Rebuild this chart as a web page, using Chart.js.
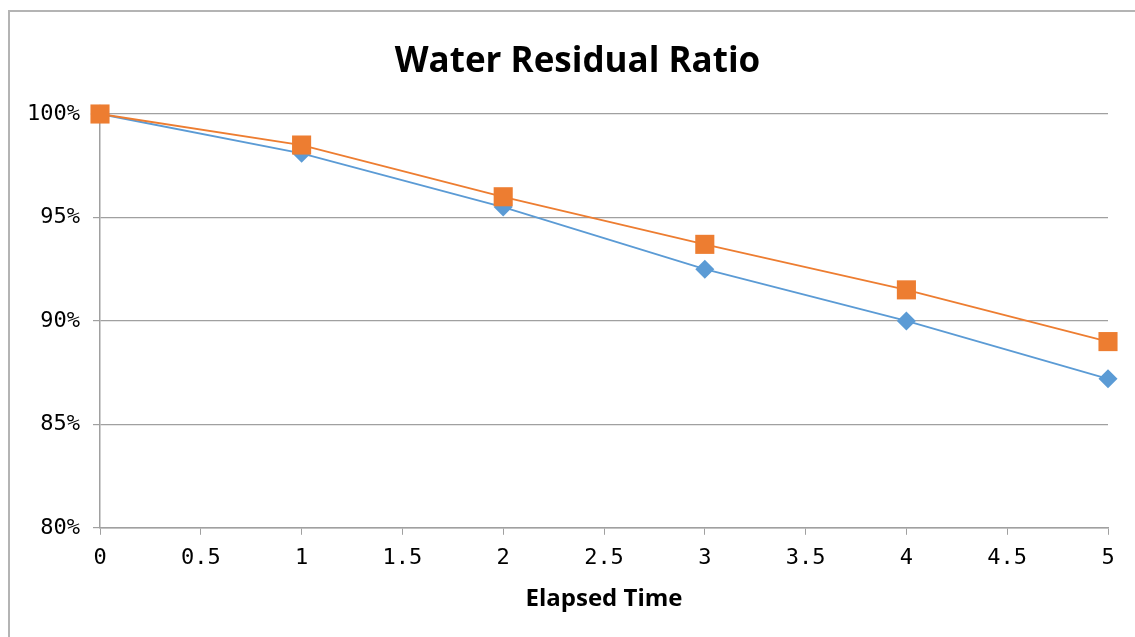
<!DOCTYPE html>
<html>
<head>
<meta charset="utf-8">
<script src="https://cdn.jsdelivr.net/npm/chart.js@4"></script>
<style>
  html, body { margin: 0; padding: 0; background: #fff; }
  #wrap { position: absolute; left: 0; top: 0; width: 1135px; height: 637px; }
  #frame { position: absolute; left: 8px; top: 10px; width: 1200px; height: 700px;
           border-left: 2px solid #b4b4b4; border-top: 2px solid #b4b4b4; }
</style>
</head>
<body>
<div id="frame"></div>
<div id="wrap"><canvas id="chart" width="1135" height="637"></canvas></div>
<script>
let times = [0, 1, 2, 3, 4, 5];
let seriesA = [100, 98.1, 95.5, 92.5, 90.0, 87.2];
let seriesB = [100, 98.5, 96.0, 93.7, 91.5, 89.0];
let xTicks = [0, 0.5, 1, 1.5, 2, 2.5, 3, 3.5, 4, 4.5, 5];
let yTicks = [80, 85, 90, 95, 100];

function pts(vals) {
  let out = [];
  for (let i = 0; i < times.length; i++) out.push({ x: times[i], y: vals[i] });
  return out;
}

let ctx = document.querySelector("#chart").getContext("2d");
let tickFont = { family: "'DejaVu Sans Mono'", size: 22 };

new Chart(ctx, {
  type: "line",
  data: {
    datasets: [
      {
        label: "A",
        data: pts(seriesA),
        borderColor: "#5B9BD5",
        backgroundColor: "#5B9BD5",
        borderWidth: 1.8,
        pointStyle: "rectRot",
        pointRadius: 9.5,
        pointBorderWidth: 0,
        clip: false,
        order: 2,
      },
      {
        label: "B",
        data: pts(seriesB),
        borderColor: "#ED7D31",
        backgroundColor: "#ED7D31",
        borderWidth: 1.8,
        pointStyle: "rect",
        pointRadius: 13.5,
        pointBorderWidth: 0,
        clip: false,
        order: 1,
      },
    ],
  },
  options: {
    responsive: false,
    animation: false,
    layout: { padding: { left: 20, right: 0, top: 0, bottom: 23 } },
    plugins: {
      legend: { display: false },
      tooltip: { enabled: false },
      title: {
        display: true,
        text: "Water Residual Ratio",
        color: "#000",
        font: { family: "'Open Sans'", size: 35, weight: "bold" },
        padding: { top: 41, bottom: 31 },
      },
    },
    scales: {
      x: {
        type: "linear",
        min: 0,
        max: 5,
        afterBuildTicks: (axis) => { axis.ticks = xTicks.map((v) => ({ value: v })); },
        ticks: {
          color: "#000",
          font: tickFont,
          padding: 10,
          maxRotation: 0,
          callback: (v) => String(v),
        },
        grid: { drawOnChartArea: false, drawTicks: true, tickLength: 7, color: "#a0a0a0" },
        border: { color: "#a0a0a0", width: 1.5 },
        title: {
          display: true,
          text: "Elapsed Time",
          color: "#000",
          font: { family: "'Open Sans'", size: 24, weight: "bold" },
          padding: { top: 4, bottom: 0 },
        },
      },
      y: {
        min: 80,
        max: 100,
        afterBuildTicks: (axis) => { axis.ticks = yTicks.map((v) => ({ value: v })); },
        afterFit: (axis) => { axis.width = 80; },
        ticks: {
          color: "#000",
          font: tickFont,
          padding: 13,
          callback: (v) => v + "%",
        },
        grid: { color: "#a0a0a0", lineWidth: 1.2, tickLength: 7 },
        border: { color: "#a0a0a0", width: 1.5 },
      },
      // empty right-hand strip so the plot stops short of the edge
      y2: {
        position: "right",
        min: 80,
        max: 100,
        afterFit: (axis) => { axis.width = 27; },
        ticks: { display: false },
        grid: { display: false },
        border: { display: false },
      },
    },
  },
});
</script>
</body>
</html>
